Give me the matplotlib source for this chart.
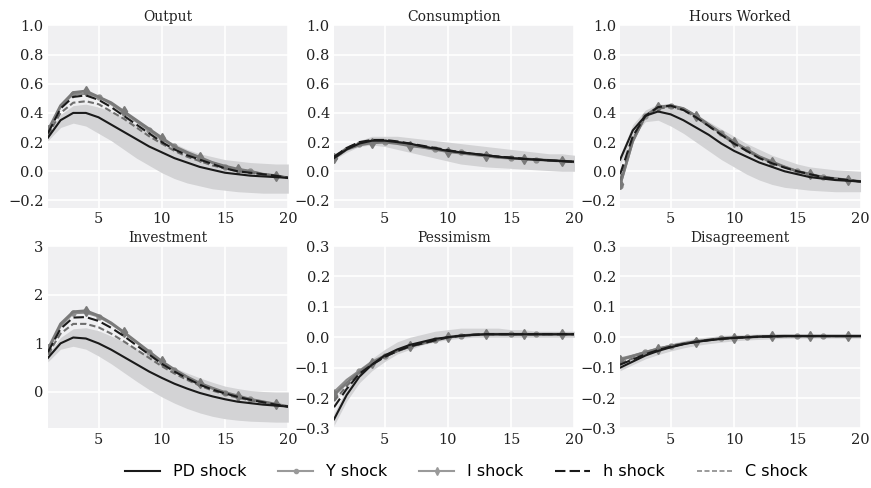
import matplotlib
matplotlib.use('Agg')
import matplotlib.pyplot as plt
from matplotlib.lines import Line2D
import numpy as np

# horizon
t = np.arange(1, 21)

titles = ['Output', 'Consumption', 'Hours Worked', 'Investment', 'Pessimism', 'Disagreement']

# PD shock (median) per panel
pd_out = [0.23, 0.35, 0.40, 0.40, 0.37, 0.32, 0.27, 0.22, 0.17, 0.13, 0.09, 0.06, 0.03, 0.01, -0.01, -0.02, -0.03, -0.035, -0.04, -0.045]
pd_con = [0.09, 0.15, 0.19, 0.21, 0.21, 0.20, 0.19, 0.17, 0.155, 0.14, 0.13, 0.12, 0.11, 0.10, 0.09, 0.085, 0.08, 0.075, 0.07, 0.065]
pd_hrs = [0.08, 0.28, 0.38, 0.41, 0.39, 0.35, 0.30, 0.25, 0.19, 0.14, 0.10, 0.06, 0.03, 0.0, -0.02, -0.04, -0.05, -0.06, -0.065, -0.07]
pd_inv = [0.70, 1.00, 1.12, 1.10, 1.00, 0.87, 0.72, 0.57, 0.42, 0.29, 0.17, 0.07, -0.02, -0.09, -0.15, -0.20, -0.23, -0.26, -0.28, -0.30]
pd_pes = [-0.27, -0.19, -0.13, -0.09, -0.06, -0.04, -0.025, -0.015, -0.005, 0.0, 0.005, 0.008, 0.01, 0.01, 0.01, 0.01, 0.01, 0.01, 0.01, 0.01]
pd_dis = [-0.10, -0.08, -0.06, -0.045, -0.033, -0.023, -0.015, -0.01, -0.005, -0.002, 0.0, 0.002, 0.003, 0.004, 0.004, 0.004, 0.004, 0.004, 0.004, 0.004]

# PD shock bands (lower, upper)
lo_out = [0.21, 0.30, 0.33, 0.31, 0.26, 0.21, 0.15, 0.09, 0.04, -0.01, -0.05, -0.08, -0.10, -0.12, -0.13, -0.14, -0.145, -0.15, -0.15, -0.15]
hi_out = [0.26, 0.39, 0.45, 0.46, 0.44, 0.41, 0.37, 0.32, 0.27, 0.23, 0.19, 0.15, 0.12, 0.10, 0.08, 0.07, 0.06, 0.055, 0.05, 0.05]
lo_con = [0.08, 0.13, 0.17, 0.18, 0.17, 0.15, 0.13, 0.11, 0.09, 0.07, 0.05, 0.04, 0.03, 0.025, 0.02, 0.015, 0.01, 0.005, 0.0, 0.0]
hi_con = [0.10, 0.17, 0.21, 0.24, 0.24, 0.24, 0.23, 0.22, 0.21, 0.20, 0.19, 0.18, 0.17, 0.16, 0.15, 0.14, 0.13, 0.12, 0.12, 0.11]
lo_hrs = [0.05, 0.24, 0.34, 0.35, 0.31, 0.26, 0.20, 0.14, 0.08, 0.03, -0.02, -0.06, -0.09, -0.11, -0.12, -0.13, -0.135, -0.14, -0.14, -0.14]
hi_hrs = [0.11, 0.32, 0.42, 0.46, 0.46, 0.43, 0.39, 0.34, 0.29, 0.24, 0.19, 0.15, 0.11, 0.08, 0.05, 0.03, 0.02, 0.01, 0.005, 0.0]
lo_inv = [0.62, 0.88, 0.94, 0.88, 0.74, 0.58, 0.40, 0.22, 0.05, -0.10, -0.23, -0.34, -0.43, -0.50, -0.55, -0.58, -0.60, -0.61, -0.62, -0.62]
hi_inv = [0.78, 1.12, 1.30, 1.32, 1.26, 1.15, 1.03, 0.89, 0.75, 0.62, 0.50, 0.39, 0.29, 0.20, 0.12, 0.07, 0.03, 0.01, 0.0, 0.0]
lo_pes = [-0.29, -0.21, -0.15, -0.11, -0.08, -0.055, -0.04, -0.025, -0.015, -0.008, -0.003, 0.0, 0.0, 0.0, 0.0, 0.0, 0.0, 0.0, 0.0, 0.0]
hi_pes = [-0.25, -0.17, -0.11, -0.07, -0.04, -0.015, 0.0, 0.01, 0.02, 0.025, 0.03, 0.03, 0.03, 0.03, 0.025, 0.025, 0.02, 0.02, 0.02, 0.02]
lo_dis = [-0.11, -0.09, -0.071, -0.057, -0.045, -0.035, -0.027, -0.021, -0.016, -0.012, -0.009, -0.007, -0.005, -0.004, -0.003, -0.003, -0.003, -0.003, -0.003, -0.003]
hi_dis = [-0.09, -0.07, -0.049, -0.033, -0.021, -0.011, -0.003, 0.001, 0.006, 0.008, 0.009, 0.011, 0.011, 0.012, 0.011, 0.011, 0.011, 0.011, 0.011, 0.011]

# other shocks
y_out = [0.27, 0.44, 0.53, 0.53, 0.51, 0.46, 0.40, 0.34, 0.28, 0.22, 0.17, 0.12, 0.09, 0.06, 0.03, 0.01, 0.0, -0.02, -0.03, -0.045]
i_out = [0.28, 0.45, 0.54, 0.55, 0.51, 0.47, 0.41, 0.35, 0.29, 0.23, 0.17, 0.13, 0.095, 0.06, 0.035, 0.015, 0.0, -0.02, -0.03, -0.045]
h_out = [0.26, 0.43, 0.51, 0.52, 0.49, 0.44, 0.38, 0.32, 0.26, 0.20, 0.15, 0.11, 0.08, 0.05, 0.02, 0.0, -0.01, -0.02, -0.03, -0.045]
c_out = [0.25, 0.40, 0.47, 0.48, 0.46, 0.41, 0.36, 0.30, 0.24, 0.19, 0.14, 0.10, 0.07, 0.04, 0.02, 0.0, -0.01, -0.02, -0.03, -0.045]

y_con = [0.09, 0.15, 0.185, 0.20, 0.20, 0.195, 0.18, 0.165, 0.15, 0.14, 0.13, 0.12, 0.11, 0.10, 0.09, 0.085, 0.08, 0.075, 0.07, 0.065]
i_con = [0.09, 0.15, 0.18, 0.195, 0.20, 0.19, 0.175, 0.165, 0.15, 0.135, 0.125, 0.115, 0.105, 0.095, 0.09, 0.085, 0.08, 0.075, 0.07, 0.065]
h_con = [0.10, 0.16, 0.20, 0.215, 0.215, 0.205, 0.19, 0.175, 0.16, 0.145, 0.13, 0.12, 0.11, 0.10, 0.095, 0.085, 0.08, 0.075, 0.07, 0.065]
c_con = [0.10, 0.16, 0.195, 0.21, 0.21, 0.20, 0.185, 0.17, 0.155, 0.14, 0.13, 0.12, 0.11, 0.10, 0.09, 0.085, 0.08, 0.075, 0.07, 0.065]

y_hrs = [-0.10, 0.20, 0.38, 0.44, 0.45, 0.43, 0.38, 0.32, 0.26, 0.20, 0.15, 0.10, 0.06, 0.03, 0.0, -0.02, -0.04, -0.05, -0.06, -0.07]
i_hrs = [-0.09, 0.21, 0.38, 0.44, 0.45, 0.43, 0.38, 0.32, 0.26, 0.20, 0.15, 0.10, 0.065, 0.03, 0.0, -0.02, -0.04, -0.05, -0.06, -0.07]
h_hrs = [-0.02, 0.24, 0.38, 0.44, 0.45, 0.42, 0.37, 0.31, 0.25, 0.19, 0.14, 0.09, 0.055, 0.025, 0.0, -0.02, -0.04, -0.05, -0.06, -0.07]
c_hrs = [-0.06, 0.22, 0.38, 0.43, 0.44, 0.42, 0.37, 0.31, 0.25, 0.19, 0.14, 0.095, 0.06, 0.03, 0.0, -0.02, -0.04, -0.05, -0.06, -0.07]

y_inv = [0.85, 1.35, 1.62, 1.63, 1.55, 1.40, 1.22, 1.02, 0.82, 0.62, 0.45, 0.30, 0.17, 0.07, -0.02, -0.09, -0.15, -0.20, -0.25, -0.30]
i_inv = [0.88, 1.40, 1.65, 1.67, 1.57, 1.42, 1.23, 1.03, 0.83, 0.63, 0.46, 0.31, 0.18, 0.08, -0.01, -0.08, -0.15, -0.20, -0.25, -0.30]
h_inv = [0.82, 1.30, 1.53, 1.54, 1.46, 1.32, 1.15, 0.96, 0.77, 0.58, 0.42, 0.28, 0.15, 0.05, -0.03, -0.10, -0.16, -0.21, -0.26, -0.30]
c_inv = [0.78, 1.20, 1.40, 1.40, 1.33, 1.20, 1.04, 0.87, 0.70, 0.53, 0.38, 0.25, 0.13, 0.03, -0.05, -0.12, -0.17, -0.22, -0.26, -0.30]

y_pes = [-0.18, -0.14, -0.11, -0.08, -0.06, -0.045, -0.03, -0.02, -0.01, 0.0, 0.005, 0.008, 0.01, 0.01, 0.01, 0.01, 0.01, 0.01, 0.01, 0.01]
i_pes = [-0.19, -0.15, -0.115, -0.085, -0.062, -0.045, -0.03, -0.02, -0.01, 0.0, 0.005, 0.008, 0.01, 0.01, 0.01, 0.01, 0.01, 0.01, 0.01, 0.01]
h_pes = [-0.23, -0.17, -0.12, -0.09, -0.065, -0.045, -0.03, -0.02, -0.01, 0.0, 0.005, 0.008, 0.01, 0.01, 0.01, 0.01, 0.01, 0.01, 0.01, 0.01]
c_pes = [-0.21, -0.16, -0.12, -0.09, -0.065, -0.045, -0.03, -0.02, -0.01, 0.0, 0.005, 0.008, 0.01, 0.01, 0.01, 0.01, 0.01, 0.01, 0.01, 0.01]

y_dis = [-0.07, -0.06, -0.048, -0.037, -0.028, -0.02, -0.013, -0.008, -0.004, -0.001, 0.0, 0.002, 0.003, 0.004, 0.004, 0.004, 0.004, 0.004, 0.004, 0.004]
i_dis = [-0.075, -0.062, -0.05, -0.038, -0.029, -0.021, -0.014, -0.009, -0.004, -0.001, 0.0, 0.002, 0.003, 0.004, 0.004, 0.004, 0.004, 0.004, 0.004, 0.004]
h_dis = [-0.09, -0.073, -0.056, -0.042, -0.031, -0.022, -0.015, -0.009, -0.005, -0.002, 0.0, 0.002, 0.003, 0.004, 0.004, 0.004, 0.004, 0.004, 0.004, 0.004]
c_dis = [-0.085, -0.07, -0.054, -0.041, -0.03, -0.021, -0.014, -0.009, -0.005, -0.002, 0.0, 0.002, 0.003, 0.004, 0.004, 0.004, 0.004, 0.004, 0.004, 0.004]

pd_all = [pd_out, pd_con, pd_hrs, pd_inv, pd_pes, pd_dis]
lo_all = [lo_out, lo_con, lo_hrs, lo_inv, lo_pes, lo_dis]
hi_all = [hi_out, hi_con, hi_hrs, hi_inv, hi_pes, hi_dis]
y_all = [y_out, y_con, y_hrs, y_inv, y_pes, y_dis]
i_all = [i_out, i_con, i_hrs, i_inv, i_pes, i_dis]
h_all = [h_out, h_con, h_hrs, h_inv, h_pes, h_dis]
c_all = [c_out, c_con, c_hrs, c_inv, c_pes, c_dis]

ylims = [(-0.25, 1.0), (-0.25, 1.0), (-0.25, 1.0), (-0.75, 3.0), (-0.3, 0.3), (-0.3, 0.3)]
yticks = [np.arange(-0.2, 1.01, 0.2), np.arange(-0.2, 1.01, 0.2), np.arange(-0.2, 1.01, 0.2),
          [0, 1, 2, 3], np.arange(-0.3, 0.31, 0.1), np.arange(-0.3, 0.31, 0.1)]

fig, axes = plt.subplots(2, 3, figsize=(8.71, 4.88), dpi=100)
fig.subplots_adjust(left=0.055, right=0.988, top=0.948, bottom=0.122, wspace=0.19, hspace=0.21)

for k, ax in enumerate(axes.flat):
    ax.set_facecolor('#f0f0f2')
    ax.grid(True, color='white', linewidth=1.2)
    ax.set_axisbelow(True)
    for s in ax.spines.values():
        s.set_visible(False)
    ax.fill_between(t, lo_all[k], hi_all[k], color='#d3d3d5', linewidth=0)
    ax.plot(t, y_all[k], color='#8c8c8c', lw=1.5, marker='o', ms=3.5, markevery=slice(0, None, 2))
    ax.plot(t, i_all[k], color='#7a7a7a', lw=2.0, marker='d', ms=5, markevery=slice(0, None, 3))
    ax.plot(t, c_all[k], color='#6e6e6e', lw=1.5, ls=(0, (3, 1.5)))
    ax.plot(t, h_all[k], color='#1a1a1a', lw=1.5, ls=(0, (5, 2)))
    ax.plot(t, pd_all[k], color='#1a1a1a', lw=1.5)
    ax.set_xlim(1, 20)
    ax.set_xticks([5, 10, 15, 20])
    ax.set_ylim(*ylims[k])
    ax.set_yticks(yticks[k])
    if k in (4, 5):
        ax.set_yticklabels(['\u22120.3', '\u22120.2', '\u22120.1', '0.0', '0.1', '0.2', '0.3'])
    elif k in (0, 1, 2):
        ax.set_yticklabels(['\u22120.2', '0.0', '0.2', '0.4', '0.6', '0.8', '1.0'])
    ax.tick_params(length=0, labelsize=10.5, pad=3)
    for lab in ax.get_xticklabels() + ax.get_yticklabels():
        lab.set_family('DejaVu Serif')
        lab.set_color('#222222')
    ax.set_title(titles[k], family='DejaVu Serif', fontsize=10, pad=3, color='#222222')

# legend handles (lighter, smaller markers as in the reference)
handles = [
    Line2D([], [], color='#1a1a1a', lw=1.5),
    Line2D([], [], color='#9a9a9a', lw=1.5, marker='o', ms=3),
    Line2D([], [], color='#9a9a9a', lw=1.5, marker='d', ms=4),
    Line2D([], [], color='#1a1a1a', lw=1.5, ls=(0, (5, 2))),
    Line2D([], [], color='#8a8a8a', lw=1.2, ls=(0, (3, 1.5))),
]
labels = ['PD shock', 'Y shock', 'I shock', 'h shock', 'C shock']
fig.legend(handles, labels, loc='lower center', ncol=5, frameon=False,
           bbox_to_anchor=(0.535, -0.012), fontsize=11.5, handlelength=2.2,
           columnspacing=2.0, handletextpad=0.8)

plt.savefig('out.png', dpi=100)
